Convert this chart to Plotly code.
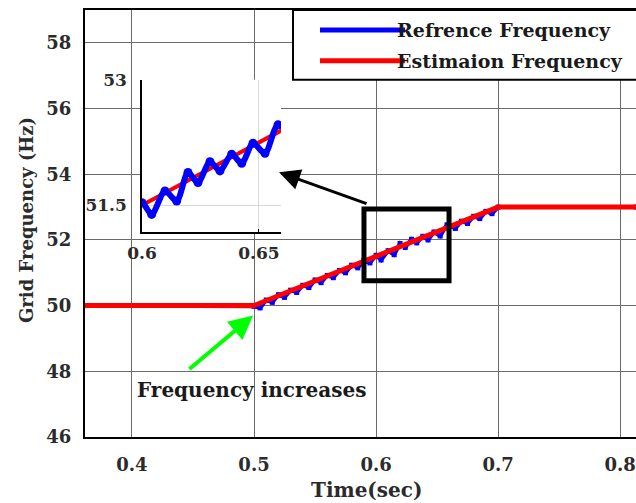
import plotly.graph_objects as go

# ---------------- data ----------------
est_t = [0.3615, 0.500, 0.700, 0.813]
est_v = [50.0, 50.0, 53.0, 53.0]

ref_t = [0.3615, 0.500, 0.505, 0.510, 0.515, 0.520, 0.525, 0.530, 0.535, 0.540,
         0.545, 0.550, 0.555, 0.560, 0.565, 0.570, 0.575, 0.580, 0.585, 0.590,
         0.595, 0.600, 0.60415, 0.60983, 0.61483, 0.61966, 0.62393, 0.62906,
         0.63333, 0.63833, 0.64261, 0.64744, 0.65256, 0.65812, 0.665, 0.670,
         0.675, 0.680, 0.685, 0.690, 0.695, 0.700, 0.813]
ref_v = [50.00, 49.98, 49.93, 50.17, 50.10, 50.33, 50.25, 50.47, 50.40, 50.62,
         50.55, 50.78, 50.70, 50.92, 50.85, 51.07, 51.00, 51.23, 51.15, 51.37,
         51.30, 51.53, 51.39, 51.67, 51.55, 51.89, 51.77, 52.02,
         51.91, 52.11, 52.00, 52.24, 52.12, 52.46, 52.35, 52.57,
         52.50, 52.72, 52.65, 52.87, 52.80, 53.00, 53.00]

x_ticks = [0.4, 0.5, 0.6, 0.7, 0.8]
y_ticks = [46, 48, 50, 52, 54, 56, 58]
inset_x_ticks = [0.6, 0.65]
inset_x_labels = ["0.6", "0.65"]
inset_y_ticks = [51.5, 53]
inset_y_labels = ["51.5", "53"]

legend_names = ["Refrence Frequency", "Estimaion Frequency"]
BLUE = "#0000ff"
RED = "#ff0000"
FONT = "DejaVu Serif"
TXT = "#2b2b2b"

fig = go.Figure()

# main traces
fig.add_trace(go.Scatter(x=ref_t, y=ref_v, mode="lines+markers",
                         line=dict(color=BLUE, width=4),
                         marker=dict(color=BLUE, size=5, symbol="square"),
                         name=legend_names[0], showlegend=False,
                         xaxis="x", yaxis="y"))
fig.add_trace(go.Scatter(x=est_t, y=est_v, mode="lines",
                         line=dict(color=RED, width=5),
                         name=legend_names[1], showlegend=False,
                         xaxis="x", yaxis="y"))
# inset traces
fig.add_trace(go.Scatter(x=est_t, y=est_v, mode="lines",
                         line=dict(color=RED, width=4),
                         showlegend=False, xaxis="x2", yaxis="y2"))
fig.add_trace(go.Scatter(x=ref_t, y=ref_v, mode="lines+markers",
                         line=dict(color=BLUE, width=6, shape="spline", smoothing=0.8),
                         marker=dict(color=BLUE, size=9),
                         showlegend=False, xaxis="x2", yaxis="y2"))

tickfont = dict(family=FONT, size=18, color=TXT, weight="bold")
inset_font = dict(family=FONT, size=17, color=TXT, weight="bold")

fig.update_layout(
    width=636, height=503,
    margin=dict(l=85, r=0, t=8, b=66),
    paper_bgcolor="white", plot_bgcolor="white",
    showlegend=False,
    xaxis=dict(domain=[0, 1], range=[0.3615, 0.813], tickvals=x_ticks,
               ticktext=[f"{v:.1f}" for v in x_ticks],
               showgrid=True, gridcolor="#6a6a6a", gridwidth=1,
               showline=True, linecolor="black", linewidth=2, mirror=True,
               ticks="", tickfont=tickfont, ticklabelstandoff=10, zeroline=False),
    yaxis=dict(domain=[0, 1], range=[46, 59], tickvals=y_ticks,
               showgrid=True, gridcolor="#6a6a6a", gridwidth=1,
               showline=True, linecolor="black", linewidth=2, mirror=False,
               ticks="", tickfont=tickfont, ticklabelstandoff=8, zeroline=False),
    xaxis2=dict(domain=[0.1034, 0.3557], range=[0.6, 0.6594], anchor="y2",
                tickvals=inset_x_ticks, ticktext=inset_x_labels,
                showgrid=True, gridcolor="#d9d9d9", gridwidth=1,
                showline=True, linecolor="black", linewidth=1.5,
                ticks="inside", ticklen=3, tickcolor="black",
                tickfont=inset_font, ticklabelstandoff=5, zeroline=False),
    yaxis2=dict(domain=[0.4802, 0.8368], range=[51.18, 53], anchor="x2",
                tickvals=inset_y_ticks, ticktext=inset_y_labels,
                showgrid=True, gridcolor="#d9d9d9", gridwidth=1,
                showline=True, linecolor="black", linewidth=1.5,
                ticks="", tickfont=inset_font, ticklabelstandoff=10, zeroline=False),
)

shapes = []
# white background of inset
shapes.append(dict(type="rect", xref="x2 domain", yref="y2 domain",
                   x0=0, x1=1, y0=0, y1=1, fillcolor="white",
                   line=dict(width=0), layer="below"))
# zoom rectangle
shapes.append(dict(type="rect", xref="x", yref="y", x0=0.5901, x1=0.6598,
                   y0=50.76, y1=52.94, line=dict(color="black", width=5),
                   fillcolor="rgba(0,0,0,0)", layer="above"))
# legend box
shapes.append(dict(type="rect", xref="paper", yref="paper", x0=0.3775, x1=1.03,
                   y0=0.8368, y1=1.0, fillcolor="white",
                   line=dict(color="black", width=2), layer="above"))
shapes.append(dict(type="line", xref="paper", yref="paper", x0=0.4265, x1=0.5807,
                   y0=0.9534, y1=0.9534, line=dict(color=BLUE, width=5), layer="above"))
shapes.append(dict(type="line", xref="paper", yref="paper", x0=0.4265, x1=0.5807,
                   y0=0.8811, y1=0.8811, line=dict(color=RED, width=5), layer="above"))
fig.update_layout(shapes=shapes)

legfont = dict(family=FONT, size=19, color="#1a1a1a", weight="bold")
annotations = [
    dict(xref="paper", yref="paper", x=0.5626, y=0.9534, text=legend_names[0],
         showarrow=False, xanchor="left", yanchor="middle", font=legfont),
    dict(xref="paper", yref="paper", x=0.5626, y=0.8811, text=legend_names[1],
         showarrow=False, xanchor="left", yanchor="middle", font=legfont),
    # black arrow to inset
    dict(xref="x", yref="y", axref="x", ayref="y", x=0.5205, y=54.06,
         ax=0.5934, ay=53.09, text="", showarrow=True, arrowhead=2,
         arrowsize=1.4, arrowwidth=3, arrowcolor="black"),
    # green arrow
    dict(xref="x", yref="y", axref="x", ayref="y", x=0.4992, y=49.70,
         ax=0.4459, ay=48.03, text="", showarrow=True, arrowhead=2,
         arrowsize=1.2, arrowwidth=4, arrowcolor="#00ff00"),
    dict(xref="x", yref="y", x=0.4983, y=47.42, text="Frequency increases",
         showarrow=False, xanchor="center", yanchor="middle",
         font=dict(family=FONT, size=20, color="#1a1a1a", weight="bold")),
    # axis titles
    dict(xref="paper", yref="paper", x=(366 - 85) / 551, y=(437 - 490) / 429,
         text="Time(sec)", showarrow=False, xanchor="center", yanchor="middle",
         font=dict(family=FONT, size=20, color=TXT, weight="bold")),
    dict(xref="paper", yref="paper", x=(26 - 85) / 551, y=(437 - 219) / 429,
         text="Grid Frequency (Hz)", showarrow=False, textangle=-90,
         xanchor="center", yanchor="middle",
         font=dict(family=FONT, size=18, color=TXT, weight="bold")),
]
fig.update_layout(annotations=annotations)

fig.write_html("out.html")
